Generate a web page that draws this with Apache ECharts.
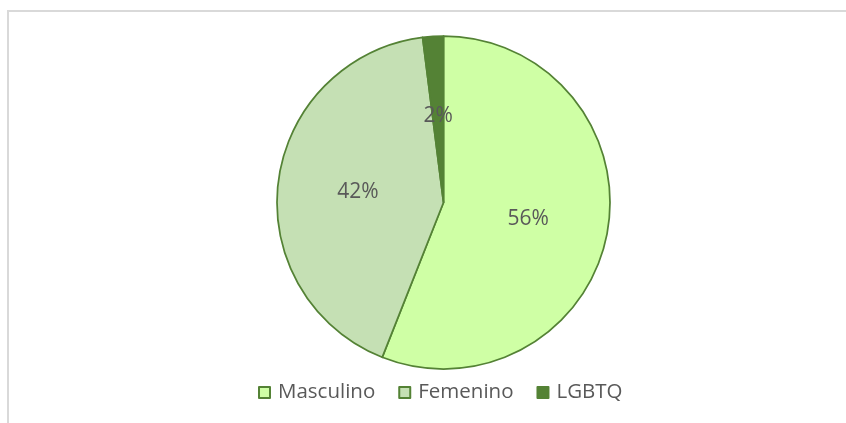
<!DOCTYPE html>
<html>
<head>
<meta charset="utf-8">
<script src="https://cdn.jsdelivr.net/npm/echarts@6/dist/echarts.min.js"></script>
<style>
  html, body { margin: 0; padding: 0; background: #fff; }
  #grafico { width: 846px; height: 423px; }
</style>
</head>
<body>
<div id="grafico"></div>
<script>
// datos
const categorias = ['Masculino', 'Femenino', 'LGBTQ'];
const valores = [56, 42, 2];
const colores = ['#CFFFA5', '#C5E0B4', '#548235'];

const chart = echarts.init(document.getElementById('grafico'));
const fuente = '"Open Sans", Lato, sans-serif';

chart.setOption({
  animation: false,
  graphic: [{
    type: 'polyline',
    shape: { points: [[8, 423], [8, 11], [846, 11]] },
    style: { stroke: '#D9D9D9', lineWidth: 2, fill: null }
  }],
  legend: {
    bottom: 15,
    left: 253,
    icon: 'rect',
    itemWidth: 11,
    itemHeight: 11,
    itemGap: 23,
    textStyle: { color: '#595959', fontSize: 20.5, fontFamily: fuente, padding: [0, 0, 0, 3] },
    data: categorias
  },
  series: [{
    type: 'pie',
    center: [443.5, 202.5],
    radius: 166.5,
    startAngle: 90,
    clockwise: true,
    label: {
      position: 'inside',
      formatter: '{d}%',
      color: '#595959',
      fontSize: 21,
      fontFamily: fuente
    },
    labelLine: { show: false },
    itemStyle: { borderColor: '#548235', borderWidth: 1.75 },
    emphasis: { disabled: true },
    data: categorias.map((nome, i) => ({
      name: nome,
      value: valores[i],
      itemStyle: { color: colores[i] }
    }))
  }]
});
</script>
</body>
</html>
